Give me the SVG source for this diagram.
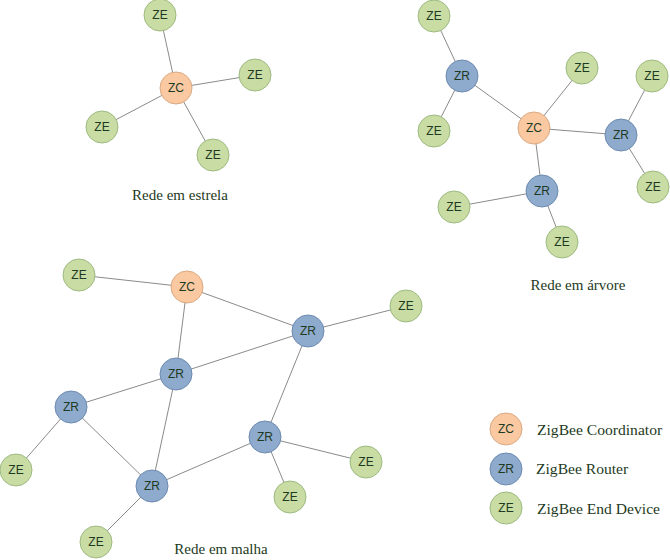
<svg xmlns="http://www.w3.org/2000/svg" width="670" height="560" viewBox="0 0 670 560">
<style>
.zc{fill:#fac9a2;stroke:#d9a982;stroke-width:1}
.zr{fill:#8eaacc;stroke:#6d8bb2;stroke-width:1}
.ze{fill:#c8dca4;stroke:#9dba80;stroke-width:1}
.t{font-family:"Liberation Sans",Arial,sans-serif;font-size:12px;fill:#1e3a22;text-anchor:middle;dominant-baseline:central}
.lb{font-family:"Liberation Serif","Times New Roman",serif;font-size:15px;fill:#1e3a22}
.lg{font-size:15.6px}
.e line{stroke:#8a8a8a;stroke-width:1}
</style>
<rect width="670" height="560" fill="#ffffff"/>
<g id="connectors" class="e">
<line x1="176" y1="88" x2="160" y2="15"/>
<line x1="176" y1="88" x2="255" y2="75"/>
<line x1="176" y1="88" x2="102" y2="127"/>
<line x1="176" y1="88" x2="213" y2="155"/>
<line x1="462" y1="76" x2="434" y2="16"/>
<line x1="462" y1="76" x2="434" y2="131"/>
<line x1="462" y1="76" x2="534" y2="128"/>
<line x1="534" y1="128" x2="582" y2="68"/>
<line x1="534" y1="128" x2="621" y2="135"/>
<line x1="621" y1="135" x2="652" y2="76"/>
<line x1="621" y1="135" x2="653" y2="187"/>
<line x1="534" y1="128" x2="542" y2="191"/>
<line x1="542" y1="191" x2="454" y2="207"/>
<line x1="542" y1="191" x2="562" y2="242"/>
<line x1="79" y1="275" x2="187" y2="287"/>
<line x1="187" y1="287" x2="308" y2="331"/>
<line x1="187" y1="287" x2="176" y2="374"/>
<line x1="308" y1="331" x2="406" y2="306"/>
<line x1="308" y1="331" x2="176" y2="374"/>
<line x1="308" y1="331" x2="265" y2="437"/>
<line x1="176" y1="374" x2="71" y2="407"/>
<line x1="176" y1="374" x2="152" y2="486"/>
<line x1="71" y1="407" x2="16" y2="470"/>
<line x1="71" y1="407" x2="152" y2="486"/>
<line x1="152" y1="486" x2="265" y2="437"/>
<line x1="152" y1="486" x2="96" y2="542"/>
<line x1="265" y1="437" x2="366" y2="462"/>
<line x1="265" y1="437" x2="290" y2="497"/>
</g>
<!-- star -->
<g id="s-ze1"><circle class="ze" cx="160" cy="15" r="16"/><text class="t" x="160" y="15">ZE</text></g>
<g id="s-zc"><circle class="zc" cx="176" cy="88" r="16"/><text class="t" x="176" y="88">ZC</text></g>
<g id="s-ze2"><circle class="ze" cx="255" cy="75" r="16"/><text class="t" x="255" y="75">ZE</text></g>
<g id="s-ze3"><circle class="ze" cx="102" cy="127" r="16"/><text class="t" x="102" y="127">ZE</text></g>
<g id="s-ze4"><circle class="ze" cx="213" cy="155" r="16"/><text class="t" x="213" y="155">ZE</text></g>
<text class="lb" x="180" y="200" text-anchor="middle">Rede em estrela</text>
<!-- tree -->
<g id="t-ze1"><circle class="ze" cx="434" cy="16" r="16"/><text class="t" x="434" y="16">ZE</text></g>
<g id="t-zr1"><circle class="zr" cx="462" cy="76" r="16"/><text class="t" x="462" y="76">ZR</text></g>
<g id="t-ze2"><circle class="ze" cx="582" cy="68" r="16"/><text class="t" x="582" y="68">ZE</text></g>
<g id="t-ze3"><circle class="ze" cx="652" cy="76" r="16"/><text class="t" x="652" y="76">ZE</text></g>
<g id="t-zc"><circle class="zc" cx="534" cy="128" r="16"/><text class="t" x="534" y="128">ZC</text></g>
<g id="t-zr2"><circle class="zr" cx="621" cy="135" r="16"/><text class="t" x="621" y="135">ZR</text></g>
<g id="t-ze4"><circle class="ze" cx="434" cy="131" r="16"/><text class="t" x="434" y="131">ZE</text></g>
<g id="t-zr3"><circle class="zr" cx="542" cy="191" r="16"/><text class="t" x="542" y="191">ZR</text></g>
<g id="t-ze5"><circle class="ze" cx="653" cy="187" r="16"/><text class="t" x="653" y="187">ZE</text></g>
<g id="t-ze6"><circle class="ze" cx="454" cy="207" r="16"/><text class="t" x="454" y="207">ZE</text></g>
<g id="t-ze7"><circle class="ze" cx="562" cy="242" r="16"/><text class="t" x="562" y="242">ZE</text></g>
<text class="lb" x="578" y="290" text-anchor="middle">Rede em árvore</text>
<!-- mesh -->
<g id="m-ze1"><circle class="ze" cx="79" cy="275" r="16"/><text class="t" x="79" y="275">ZE</text></g>
<g id="m-zc"><circle class="zc" cx="187" cy="287" r="16"/><text class="t" x="187" y="287">ZC</text></g>
<g id="m-zr1"><circle class="zr" cx="308" cy="331" r="16"/><text class="t" x="308" y="331">ZR</text></g>
<g id="m-ze2"><circle class="ze" cx="406" cy="306" r="16"/><text class="t" x="406" y="306">ZE</text></g>
<g id="m-zr2"><circle class="zr" cx="176" cy="374" r="16"/><text class="t" x="176" y="374">ZR</text></g>
<g id="m-zr3"><circle class="zr" cx="71" cy="407" r="16"/><text class="t" x="71" y="407">ZR</text></g>
<g id="m-zr4"><circle class="zr" cx="265" cy="437" r="16"/><text class="t" x="265" y="437">ZR</text></g>
<g id="m-ze3"><circle class="ze" cx="16" cy="470" r="16"/><text class="t" x="16" y="470">ZE</text></g>
<g id="m-zr5"><circle class="zr" cx="152" cy="486" r="16"/><text class="t" x="152" y="486">ZR</text></g>
<g id="m-ze4"><circle class="ze" cx="366" cy="462" r="16"/><text class="t" x="366" y="462">ZE</text></g>
<g id="m-ze5"><circle class="ze" cx="290" cy="497" r="16"/><text class="t" x="290" y="497">ZE</text></g>
<g id="m-ze6"><circle class="ze" cx="96" cy="542" r="16"/><text class="t" x="96" y="542">ZE</text></g>
<text class="lb" x="221" y="554" text-anchor="middle">Rede em malha</text>
<!-- legend -->
<g id="legend-zc"><circle class="zc" cx="506" cy="429" r="16"/><text class="t" x="506" y="429">ZC</text><text class="lb lg" x="537" y="435">ZigBee Coordinator</text></g>
<g id="legend-zr"><circle class="zr" cx="506" cy="469" r="16"/><text class="t" x="506" y="469">ZR</text><text class="lb lg" x="536" y="474">ZigBee Router</text></g>
<g id="legend-ze"><circle class="ze" cx="506" cy="508" r="16"/><text class="t" x="506" y="508">ZE</text><text class="lb lg" x="537" y="514">ZigBee End Device</text></g>
</svg>
